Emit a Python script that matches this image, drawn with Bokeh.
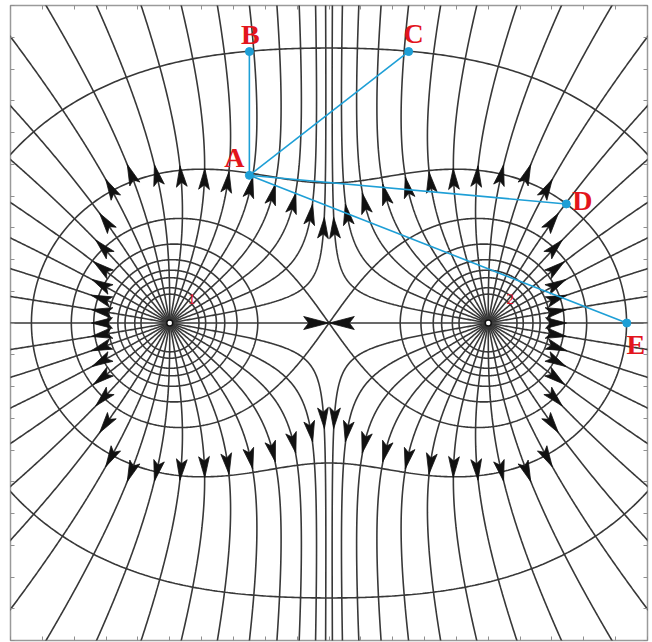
import math
import numpy as np
from bokeh.plotting import figure
from bokeh.models import Range1d, LinearAxis, FixedTicker, CustomJSTickFormatter
from bokeh.core.properties import value
from bokeh.embed import file_html
from bokeh.resources import INLINE

# ---- two equal point charges ----
charge_x = [-1.0, 1.0]
charge_y = [0.0, 0.0]
charge_q = [1.0, 1.0]
charge_names = ["1", "2"]
lines_per_charge = 36                      # field lines leaving each charge
potential_levels = [1.0, 1.5, 2.0, 2.5, 3.0, 3.5, 4.0, 5.0, 6.0]

# ---- marked points and the paths drawn from A ----
point_names = ["A", "B", "C", "D", "E"]
point_x = [-0.50, -0.50, 0.50, 1.49, 1.87]
point_y = [0.93, 1.71, 1.71, 0.75, 0.0]
path_start = "A"
path_ends = ["B", "C", "D", "E"]

tick_values = [round(-2.0 + 0.2 * i, 1) for i in range(21)]

# ---- styling ----
W, H = 652, 642
BORDER_L, BORDER_R, BORDER_T, BORDER_B = 10, 5, 5, 2
LINE_COLOR = "#383838"
PATH_COLOR = "#1e9fd6"
LABEL_COLOR = "#e3151c"
label_offset_px = [(-15, 18), (1, 17), (5, 18), (16, 3), (9, -21)]

X0, X1, Y0, Y1 = -2.0, 2.0, -2.0, 2.0
SX = (W - BORDER_L - BORDER_R) / (X1 - X0)   # px per unit
SY = (H - BORDER_T - BORDER_B) / (Y1 - Y0)

charges = list(zip(charge_x, charge_y, charge_q))


def potential(x, y):
    return sum(q / math.hypot(x - xq, y - yq) for xq, yq, q in charges)


def unit_field(x, y):
    ex = ey = 0.0
    for xq, yq, q in charges:
        dx, dy = x - xq, y - yq
        r2 = dx * dx + dy * dy
        r3 = r2 * math.sqrt(r2)
        ex += q * dx / r3
        ey += q * dy / r3
    n = math.hypot(ex, ey)
    if n == 0:
        return 0.0, 0.0
    return ex / n, ey / n


def trace_line(x, y, h=0.004, max_steps=2500):
    xs, ys = [x], [y]
    prev = unit_field(x, y)
    at_saddle = False
    for _ in range(max_steps):
        k1 = unit_field(x, y)
        k2 = unit_field(x + 0.5 * h * k1[0], y + 0.5 * h * k1[1])
        k3 = unit_field(x + 0.5 * h * k2[0], y + 0.5 * h * k2[1])
        k4 = unit_field(x + h * k3[0], y + h * k3[1])
        nx = x + h * (k1[0] + 2 * k2[0] + 2 * k3[0] + k4[0]) / 6
        ny = y + h * (k1[1] + 2 * k2[1] + 2 * k3[1] + k4[1]) / 6
        d = unit_field(nx, ny)
        # the field vanishes or reverses: the line has run into the stagnation point
        if math.hypot(nx - x, ny - y) < 0.5 * h or d[0] * prev[0] + d[1] * prev[1] < 0:
            at_saddle = True
            break
        x, y, prev = nx, ny, d
        xs.append(x)
        ys.append(y)
        if abs(x) > 2.06 or abs(y) > 2.06:
            break
        if any(math.hypot(x - xq, y - yq) < 0.01 for xq, yq, _ in charges):
            break
    return xs, ys, at_saddle


def arrow_patch(cx, cy, ux, uy, length=21.0, half_w=5.4, notch=4.5, tip_at_point=False):
    # build the head in screen pixels, then map back to data units
    px, py = ux * SX, uy * SY
    n = math.hypot(px, py)
    px, py = px / n, py / n
    qx, qy = -py, px
    if tip_at_point:
        tx, ty = 0.0, 0.0
    else:
        tx, ty = px * length / 2, py * length / 2
    bx, by = tx - px * length, ty - py * length
    pts = [
        (tx, ty),
        (bx + qx * half_w, by + qy * half_w),
        (bx + px * notch, by + py * notch),
        (bx - qx * half_w, by - qy * half_w),
    ]
    return [cx + a / SX for a, _ in pts], [cy + b / SY for _, b in pts]


# ---- field lines and their arrow heads ----
line_xs, line_ys = [], []
arrow_xs, arrow_ys = [], []
F_TOWARD, F_AWAY = 0.48, 0.42
for i, (xq, yq, q) in enumerate(charges):
    others = [(ox, oy) for j, (ox, oy, _) in enumerate(charges) if j != i]
    ox, oy = min(others, key=lambda c: math.hypot(c[0] - xq, c[1] - yq))
    toward = math.atan2(oy - yq, ox - xq)
    for k in range(lines_per_charge):
        th = 2 * math.pi * k / lines_per_charge
        xs, ys, at_saddle = trace_line(xq + 0.01 * math.cos(th), yq + 0.01 * math.sin(th))
        line_xs.append(xs[::2] + [xs[-1]])
        line_ys.append(ys[::2] + [ys[-1]])
        if at_saddle:
            ux, uy = xs[-1] - xs[-3], ys[-1] - ys[-3]
            ax, ay = arrow_patch(xs[-1], ys[-1], ux, uy, length=25, half_w=6.5, notch=5, tip_at_point=True)
        else:
            seg = np.hypot(np.diff(xs), np.diff(ys))
            inside = [(abs(a) <= 2.0 and abs(b) <= 2.0) for a, b in zip(xs, ys)]
            last = max(idx for idx, ok in enumerate(inside) if ok)
            s = np.concatenate([[0.0], np.cumsum(seg)])
            beta = abs((th - toward + math.pi) % (2 * math.pi) - math.pi)
            f = F_TOWARD + (F_AWAY - F_TOWARD) * beta / math.pi
            target = f * s[last]
            j = int(np.searchsorted(s, target))
            j = min(max(j, 2), len(xs) - 3)
            ux, uy = xs[j + 2] - xs[j - 2], ys[j + 2] - ys[j - 2]
            ax, ay = arrow_patch(xs[j], ys[j], ux, uy)
        arrow_xs.append(ax)
        arrow_ys.append(ay)

# ---- equipotential curves ----
def ray_crossing(ox, oy, ang, level, r_from, r_to, step):
    c, s = math.cos(ang), math.sin(ang)
    r_prev = r_from
    v_prev = potential(ox + r_prev * c, oy + r_prev * s)
    outward = r_to > r_from
    r = r_from
    while (r < r_to) if outward else (r > r_to):
        r = r + step if outward else r - step
        v = potential(ox + r * c, oy + r * s)
        hit = (v <= level) if outward else (v >= level)
        if hit:
            lo, hi = r_prev, r
            for _ in range(40):
                mid = 0.5 * (lo + hi)
                vm = potential(ox + mid * c, oy + mid * s)
                if (vm <= level) if outward else (vm >= level):
                    hi = mid
                else:
                    lo = mid
            return 0.5 * (lo + hi)
        if outward and v > v_prev:               # passed the minimum along this ray
            return r_prev
        r_prev, v_prev = r, v
    return r


contour_xs, contour_ys = [], []
angles = np.linspace(0, 2 * math.pi, 721)
saddle_v = potential(0.0, 0.0)
for level in potential_levels:
    if level >= saddle_v:
        for xq, yq, _ in charges:
            rr = [ray_crossing(xq, yq, a, level, 0.005, 3.0, 0.004) for a in angles]
            contour_xs.append([xq + r * math.cos(a) for r, a in zip(rr, angles)])
            contour_ys.append([yq + r * math.sin(a) for r, a in zip(rr, angles)])
    else:
        rr = [ray_crossing(0.0, 0.0, a, level, 3.6, 0.0, 0.004) for a in angles]
        contour_xs.append([r * math.cos(a) for r, a in zip(rr, angles)])
        contour_ys.append([r * math.sin(a) for r, a in zip(rr, angles)])

# ---- figure ----
p = figure(width=W, height=H, x_range=Range1d(X0, X1), y_range=Range1d(Y0, Y1),
           output_backend="svg", toolbar_location=None,
           min_border_left=BORDER_L, min_border_right=BORDER_R,
           min_border_top=BORDER_T, min_border_bottom=BORDER_B,
           background_fill_color="white", border_fill_color="white")
p.grid.visible = False
p.outline_line_color = "#9a9a9a"
p.outline_line_width = 1.5
p.add_layout(LinearAxis(), "above")
p.add_layout(LinearAxis(), "right")
for ax in p.axis:
    ax.ticker = FixedTicker(ticks=tick_values)
    ax.formatter = CustomJSTickFormatter(code="return '';")
    ax.major_tick_in = 4
    ax.major_tick_out = 0
    ax.minor_tick_in = 0
    ax.minor_tick_out = 0
    ax.major_tick_line_color = "#8f8f8f"
    ax.axis_line_color = None
    ax.major_label_text_font_size = "0px"
    ax.major_label_standoff = 0

p.multi_line(contour_xs, contour_ys, line_color=LINE_COLOR, line_width=1.6)
p.multi_line(line_xs, line_ys, line_color=LINE_COLOR, line_width=1.6)
p.patches(arrow_xs, arrow_ys, fill_color="#111111", line_color="#111111", line_width=0.8)

p.scatter(charge_x, charge_y, size=6, fill_color="white", line_color="#111111", line_width=1.5)
p.text([x + 22 / SX for x in charge_x], [y + 24 / SY for y in charge_y], text=charge_names,
       text_font=value("Liberation Serif"), text_font_size="15px", text_color="#e8102a",
       text_align="center", text_baseline="middle",
       background_fill_color="white", background_fill_alpha=0.0)

# paths from A
ia = point_names.index(path_start)
for name in path_ends:
    ib = point_names.index(name)
    p.line([point_x[ia], point_x[ib]], [point_y[ia], point_y[ib]], line_color=PATH_COLOR, line_width=1.6)
p.scatter(point_x, point_y, size=8, fill_color=PATH_COLOR, line_color=PATH_COLOR)
p.text([x + dx / SX for x, (dx, dy) in zip(point_x, label_offset_px)],
       [y + dy / SY for y, (dx, dy) in zip(point_y, label_offset_px)],
       text=point_names, text_font=value("Liberation Serif"), text_font_style="bold",
       text_font_size="28px", text_color=LABEL_COLOR, text_align="center", text_baseline="middle")

open("out.html", "w").write(file_html(p, INLINE))
